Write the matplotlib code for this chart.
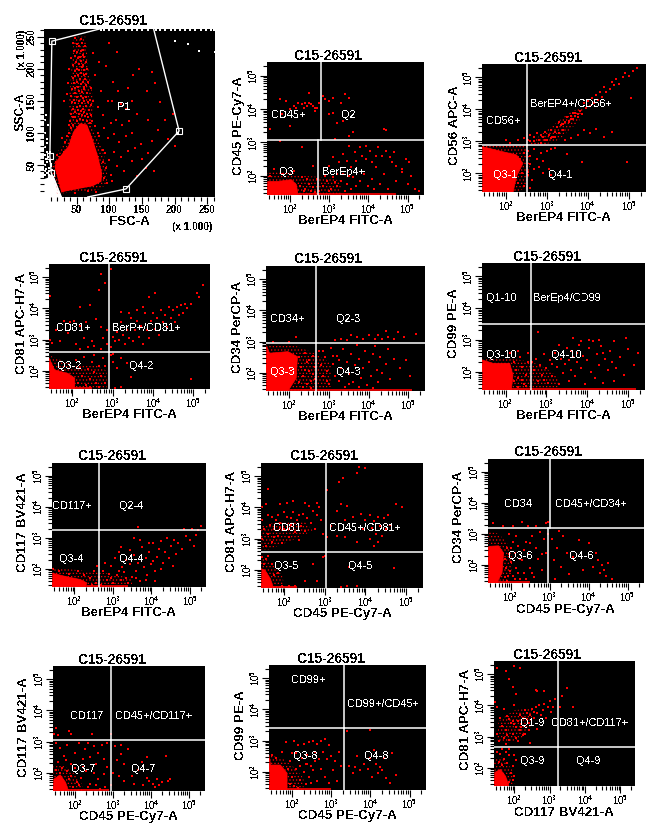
import math
import matplotlib
matplotlib.use("Agg")
import matplotlib.pyplot as plt
from matplotlib.ticker import FixedLocator, FixedFormatter, NullFormatter

plt.rcParams['font.family'] = ['Liberation Sans', 'DejaVu Sans']
plt.rcParams['mathtext.default'] = 'regular'
plt.rcParams['text.antialiased'] = False
plt.rcParams['hatch.linewidth'] = 0.5

W, H = 668, 835
RED = '#ff0000'
SAMPLE = "C15-26591"

# ============================
# FSC / SSC scatter (values in thousands)
# ============================
gate_x = [67, 125.5, 207, 168, None, 85, 12, 9, 11, 26.5]
gate_y = [0, 12.5, 103, 262, None, 262, 243, 64, 38, 0]
handle_x = [12, 207, 125.5, 9, 11]
handle_y = [243, 103, 12.5, 64, 38]
debris_x = [0, 27, 16, 11, 6, 0]
debris_y = [0, 0, 30, 36, 30, 28]
debris_pts = [(2,35),(5,38),(8,40),(3,44),(7,46),(10,48),(2,50),(5,54),(9,56),(3,60),(6,62),(1,66),(4,70),(2,78),
              (8,34),(12,42),(4,90),(2,100),(6,112),(3,128),(1,120),(5,84),(13,30),(11,52),(7,30),(1,40),(9,70),
              (200,243),(220,238),(238,228),(262,226),(205,100)]
top_row_x = [88,92,100,108,115,125,135,142,150,160,172,178,186,194,200,208,216,224,232,240,248,256,261]
core_x = [26.5, 16, 21, 37, 45, 55, 66, 75, 83, 89, 88, 75, 34]
core_y = [7, 48, 59, 79, 102, 115, 113, 89, 63, 37, 24, 17, 9]
halo_lower = [(20,5),(11,48),(22,72),(34,92),(40,112),(72,114),(85,88),(97,48),(97,20),(80,10)]
halo_column = [(40,108),(73,108),(76,150),(68,200),(64,250),(46,250),(42,200),(38,150)]
cells_pts = [(45,112),(50,118),(55,122),(60,120),(66,118),(70,115),(42,108),(48,125),(53,130),(58,128),(63,126),(68,124),
    (40,118),(44,124),(52,136),(57,134),(62,132),(66,130),(72,128),(38,112),(47,132),(50,140),(55,142),(60,138),(64,142),
    (69,136),(74,118),(44,138),(41,130),(48,146),(54,150),(58,146),(62,150),(67,148),(72,144),(46,152),(43,148),(50,156),
    (56,158),(60,154),(65,156),(70,152),(75,150),(42,158),(47,162),(53,166),(58,164),(62,168),(66,162),(52,172),(57,176),
    (61,172),(47,170),(43,168),(65,174),(50,180),(55,184),(59,180),(63,184),(46,178),(68,180),(52,190),(57,194),(61,190),
    (48,188),(65,192),(44,186),(54,198),(58,202),(62,198),(50,200),(47,196),(66,200),(53,208),(57,212),(60,206),(49,210),
    (64,210),(45,206),(55,218),(59,222),(52,216),(62,218),(48,220),(56,228),(51,226),(60,230),(46,228),(54,236),(58,240),
    (50,238),(63,236),(44,240),(56,246),(48,248),(42,216),(39,200),(37,178),(35,160),(30,150),(72,170),(78,190),(84,210),
    (100,240),(112,226),(75,224),(88,165),(95,205),(105,180),(82,140),(90,128),(98,150),(110,120),(118,145),(128,170),
    (136,190),(146,200),(170,178),(166,195),(158,165),(142,130),(130,118),(120,112),(108,98),(98,92),(115,86),(125,95),
    (135,100),(148,82),(140,76),(128,72),(118,62),(108,70),(100,58),(112,48),(122,40),(135,56),(150,60),(160,68),(95,45),
    (102,35),(90,74),(82,100),(78,110),(30,70),(24,62),(32,85),(28,92),(18,55),(20,65),(35,95),(38,100),(92,30),(96,22),
    (104,25),(160,120),(175,105),(186,120),(190,90),(178,148),(198,130),(200,80),(165,88),(85,95),(92,108),(102,115),
    (90,55),(94,68),(168,40),(156,45),(142,32),(80,8),(68,10),(48,6),(104,150),(114,165),(125,138),(135,150)]

# ============================
# Log panels, all values are log10 of the channel
# ============================
berep4_cd45_core = [(1.42,1.42),(1.42,1.83),(1.70,1.83),(2.04,1.88),(2.17,1.73),(2.21,1.42)]
berep4_cd45_halo = [[(1.42,1.42),(1.42,2.1),(1.9,2.15),(2.3,2.0),(2.9,1.95),(3.3,1.85),(3.3,1.42)]]
berep4_cd45_pts = [(2.0,4.0),(2.1,4.1),(2.2,4.2),(2.3,4.15),(2.4,4.2),(2.45,4.1),(2.5,4.2),(2.55,4.15),(2.6,4.1),(2.65,4.05),
    (2.7,4.05),(2.65,3.95),(2.75,4.2),(2.9,4.3),(2.35,4.05),(2.15,4.05),(1.9,4.25),(1.75,4.3),(1.8,3.85),(2.5,4.5),(2.85,4.4),
    (3.0,4.25),(3.1,4.35),(3.4,4.45),(3.3,4.2),(3.5,4.35),(3.1,3.9),(3.0,3.85),(3.2,3.6),(3.35,3.65),(3.5,3.2),(3.6,3.3),
    (4.4,3.4),(4.45,3.38),(3.15,3.1),(2.0,3.5),(1.5,3.4),(1.75,3.05),(2.3,2.85),(1.6,2.2),(1.5,2.0),(1.8,2.05),(2.1,2.15),
    (2.3,1.95),(2.25,1.7),(2.4,1.6),(2.5,1.75),(2.6,1.65),(2.65,1.5),(2.45,1.9),(2.35,1.55),(2.55,1.55),(2.7,1.9),(2.6,2.3),
    (2.85,1.7),(2.95,1.85),(3.05,1.6),(3.1,1.95),(3.2,1.7),(3.3,1.85),(3.35,2.05),(3.45,1.75),(3.55,1.6),(3.6,1.95),(3.7,2.2),
    (3.8,1.85),(3.9,2.05),(4.0,1.7),(4.1,1.9),(4.2,2.25),(4.3,1.75),(4.4,2.05),(4.5,1.6),(4.6,2.4),(4.7,1.85),(4.85,2.1),
    (5.0,1.75),(5.1,2.0),(5.2,1.6),(5.05,2.4),(5.3,1.55),(3.0,2.3),(3.1,2.55),(3.25,2.4),(3.35,2.65),(3.45,2.45),(3.55,2.25),
    (3.65,2.7),(3.7,2.45),(3.8,2.85),(3.85,2.6),(3.95,2.5),(3.95,2.9),(4.05,2.75),(4.1,2.4),(4.2,2.6),(4.25,2.85),(4.35,2.6),
    (4.45,2.75),(4.55,2.55),(4.65,2.7),(4.7,2.3),(4.85,2.2),(4.95,2.5),(3.5,2.9),(3.2,2.05),(3.0,1.55),(3.4,1.55),(3.7,1.7),
    (4.15,1.6),(2.75,1.55),(2.9,2.0),(3.15,1.8),(3.5,2.0)]
berep4_cd56_core = [(1.42,1.42),(1.42,2.84),(1.89,2.69),(2.26,2.58),(2.42,2.32),(2.26,1.90),(2.18,1.42)]
berep4_cd56_halo = [[(1.42,2.87),(2.52,2.87),(2.6,2.3),(2.52,1.6),(2.3,1.42),(1.9,1.42)],
                    [(2.55,2.9),(3.0,3.35),(3.6,3.95),(3.9,4.05),(3.8,3.65),(3.3,3.05),(2.95,2.9)]]
berep4_cd56_pts = [(2.55,3.05),(2.6,3.2),(2.7,3.0),(2.75,3.25),(2.8,3.05),(2.85,2.95),(2.9,3.15),(2.95,3.3),(3.0,3.05),(3.05,3.2),
    (3.1,3.35),(3.15,3.15),(3.2,3.3),(3.25,3.45),(3.3,3.25),(3.35,3.5),(3.4,3.35),(3.45,3.6),(3.5,3.75),(3.55,3.6),(3.6,3.8),
    (3.65,3.7),(3.7,3.9),(3.75,3.75),(3.8,3.95),(3.85,3.85),(3.9,4.2),(3.95,4.05),(4.0,4.25),(4.05,4.1),(4.1,4.35),(4.15,4.2),
    (4.2,4.45),(4.25,4.3),(4.3,4.55),(4.35,4.4),(4.4,4.7),(4.45,4.55),(4.55,4.65),(4.6,4.85),(4.65,4.75),(4.7,4.95),(4.75,4.8),
    (4.85,5.0),(4.9,5.15),(5.0,5.05),(5.1,5.2),(5.2,5.3),(3.55,3.65),(3.7,3.8),(3.75,3.85),(3.6,3.7),(3.65,3.9),(3.4,3.55),
    (3.3,3.6),(3.2,3.15),(3.1,3.1),(2.95,3.05),(2.85,3.2),(2.7,3.15),(2.6,3.0),(3.75,3.2),(3.9,3.35),(4.05,3.25),(4.2,3.4),
    (4.4,3.15),(4.6,3.3),(3.6,3.1),(3.45,3.05),(5.05,4.35),(2.45,3.1),(2.3,3.05),(2.0,3.05),(2.1,2.95),(2.55,2.7),(2.6,2.55),
    (2.7,2.75),(2.75,2.45),(2.85,2.65),(2.6,2.3),(2.7,2.15),(2.8,2.2),(2.9,2.4),(3.0,2.7),(3.1,2.75),(3.2,2.8),(3.5,2.6),
    (2.65,1.8),(2.55,2.05),(2.6,1.55),(2.55,1.95),(2.3,2.15),(2.35,2.45),(2.45,2.65),(2.2,1.8),(2.3,1.7),(2.4,2.0),(2.45,1.6),
    (3.05,2.15),(3.1,1.95),(2.9,2.0),(3.85,2.35),(4.95,2.35)]
berep4_cd81_core = [(1.42,1.42),(1.42,2.41),(1.56,2.03),(1.89,1.92),(2.06,1.77),(2.06,1.42)]
berep4_cd81_halo = [[(1.42,1.42),(1.42,2.5),(2.0,2.2),(2.6,2.2),(2.85,2.0),(2.85,1.42)]]
berep4_cd81_pts = [(1.8,3.6),(1.95,3.55),(2.05,3.6),(2.2,3.45),(2.35,3.55),(2.6,3.65),(2.7,3.4),(2.75,3.05),(2.85,3.3),(2.5,2.95),
    (2.3,3.05),(2.1,2.85),(1.9,3.2),(1.7,2.95),(1.5,2.9),(1.45,3.0),(1.6,3.3),(2.2,4.05),(2.45,4.1),(2.8,4.8),(2.7,5.1),
    (2.95,5.25),(2.65,4.6),(1.45,4.4),(2.2,2.7),(2.4,2.75),(2.55,2.8),(2.7,2.7),(2.85,2.85),(2.95,2.75),(3.0,3.1),(3.05,2.95),
    (3.1,3.25),(3.15,3.0),(3.2,3.55),(3.25,3.15),(3.3,2.85),(3.35,3.3),(3.4,3.05),(3.45,3.7),(3.5,2.95),(3.55,3.3),(3.6,3.6),
    (3.65,3.1),(3.7,3.45),(3.75,2.85),(3.8,3.85),(3.85,3.3),(3.9,3.05),(3.95,3.6),(4.0,3.85),(4.05,3.35),(4.1,3.7),(4.15,3.15),
    (4.2,3.95),(4.25,3.55),(4.3,3.8),(4.35,3.4),(4.4,4.05),(4.45,3.7),(4.5,3.95),(4.55,3.55),(4.6,4.05),(4.65,3.8),(4.7,4.1),
    (4.75,3.85),(4.8,4.15),(4.85,4.0),(4.95,4.15),(4.05,4.5),(3.9,4.35),(3.6,3.95),(3.4,3.85),(3.2,3.9),(3.75,4.05),(5.1,4.5),
    (5.15,4.35),(5.25,4.75),(2.95,2.5),(3.0,2.3),(3.1,2.1),(3.2,2.4),(3.35,2.25),(3.45,1.8),(3.2,1.5),(3.05,1.45),(4.95,1.75),
    (2.1,2.35),(2.2,2.1),(2.25,1.85),(2.3,2.45),(2.4,2.05),(2.45,1.75),(2.5,2.3),(2.55,1.95),(2.6,1.6),(2.65,2.15),(2.7,1.85),
    (2.75,2.4),(2.8,1.6),(2.35,1.55),(2.15,1.6),(2.55,2.5),(2.8,2.15),(2.45,1.5),(2.65,1.5),(3.0,2.55)]
berep4_cd34_core = [(1.42,1.42),(1.42,2.9),(1.51,2.63),(1.97,2.68),(2.21,2.52),(2.18,1.83),(1.97,1.42)]
berep4_cd34_halo = [[(1.42,2.92),(2.2,2.85),(2.7,2.6),(3.05,2.3),(3.05,1.55),(2.6,1.45),(2.0,1.42)]]
berep4_cd34_pts = [(2.25,2.5),(2.3,2.2),(2.35,1.9),(2.4,2.65),(2.45,2.35),(2.5,2.05),(2.55,1.75),(2.6,2.55),(2.65,2.2),(2.25,1.7),
    (2.35,1.55),(2.45,1.65),(2.55,1.5),(2.65,1.8),(2.4,2.1),(2.5,2.4),(2.6,1.95),(2.75,2.7),(2.8,2.25),(2.85,1.9),(2.9,2.5),
    (2.95,2.05),(3.0,1.65),(3.05,2.8),(3.1,2.3),(3.15,1.9),(3.2,2.55),(3.25,1.75),(3.3,2.15),(3.35,2.75),(3.4,1.55),(3.45,2.35),
    (3.5,1.95),(3.55,2.6),(3.6,1.7),(3.65,2.25),(3.7,2.9),(3.75,2.45),(3.8,1.85),(3.85,2.15),(3.9,2.7),(3.95,1.6),(4.0,2.35),
    (4.05,1.9),(4.1,2.6),(4.15,2.85),(4.2,2.1),(4.25,1.7),(4.3,2.5),(4.35,2.0),(4.45,2.3),(4.5,2.75),(4.55,1.8),(4.65,2.45),
    (4.8,2.15),(4.95,2.4),(5.05,1.9),(3.15,3.05),(3.3,3.1),(3.45,3.05),(3.55,3.2),(3.7,3.15),(3.85,3.1),(4.0,3.2),(4.15,3.1),
    (4.25,3.2),(4.35,3.1),(4.45,3.35),(4.5,3.15),(4.65,3.1),(4.75,3.3),(4.9,3.15),(5.2,3.25),(2.17,3.15),(2.0,2.98),(1.6,3.0),
    (2.95,1.75),(3.25,2.4),(3.5,1.65),(3.75,1.55),(4.1,1.5),(2.85,2.7),(3.1,2.55)]
berep4_cd99_core = [(1.42,1.42),(1.42,2.37),(1.69,2.26),(2.10,2.26),(2.18,1.89),(2.14,1.42)]
berep4_cd99_halo = [[(1.42,2.45),(2.2,2.4),(2.65,2.3),(3.0,2.1),(3.3,1.8),(3.3,1.5),(2.1,1.42)]]
berep4_cd99_pts = [(2.2,2.3),(2.25,2.05),(2.3,1.8),(2.35,2.45),(2.4,2.15),(2.45,1.6),(2.5,1.9),(2.55,2.3),(2.2,1.7),(2.3,1.5),
    (2.4,1.75),(2.5,1.55),(2.3,2.65),(2.55,2.6),(2.1,2.6),(2.7,2.05),(2.75,2.4),(2.8,1.7),(2.85,2.2),(2.9,1.9),(2.95,2.55),
    (3.0,2.1),(3.05,1.65),(3.1,2.35),(3.15,1.85),(3.2,2.6),(3.25,2.15),(3.3,1.6),(3.35,2.4),(3.4,1.95),(3.45,2.25),(3.5,2.75),
    (3.55,1.7),(3.6,2.05),(3.65,2.45),(3.7,1.85),(3.75,2.3),(3.8,2.85),(3.85,2.1),(3.9,2.5),(3.95,1.6),(4.0,2.35),(4.05,2.75),
    (4.1,2.0),(4.15,2.95),(4.2,1.8),(4.25,2.55),(4.3,2.2),(4.35,2.8),(4.4,1.65),(4.45,2.4),(4.5,2.05),(4.55,2.65),(4.6,2.3),
    (4.65,1.7),(4.7,2.1),(4.8,2.45),(4.9,1.9),(5.0,2.7),(5.15,2.2),(5.25,2.6),(2.8,3.25),(3.65,3.05),(4.3,3.0),(4.65,2.95),
    (4.95,3.05),(3.3,2.85),(3.6,2.65),(4.05,3.0),(3.85,2.95),(4.4,2.6),(2.65,2.3),(2.95,1.75),(3.15,2.25),(3.55,2.35),(3.75,2.6)]
berep4_cd117_core = [(1.42,1.42),(1.42,1.87),(1.77,1.76),(2.16,1.66),(2.33,1.55),(2.28,1.42)]
berep4_cd117_halo = [[(1.42,1.42),(1.42,2.05),(2.2,1.95),(2.9,1.85),(3.5,1.7),(3.5,1.45)]]
berep4_cd117_pts = [(1.45,2.0),(1.6,1.95),(1.85,1.85),(2.1,1.95),(2.25,1.8),(2.4,1.7),(2.5,1.95),(2.55,1.55),(2.6,2.1),(2.45,1.5),
    (2.65,1.75),(2.7,1.5),(2.75,1.95),(2.8,2.2),(2.85,1.65),(2.9,1.85),(2.95,2.1),(3.0,1.55),(3.05,2.35),(3.1,1.8),(3.15,2.55),
    (3.2,1.65),(3.25,2.05),(3.3,1.9),(3.35,2.3),(3.4,1.55),(3.45,2.15),(3.5,1.75),(3.55,2.45),(3.6,1.95),(3.65,2.2),(3.7,1.6),
    (3.75,2.7),(3.8,2.05),(3.85,2.35),(3.9,1.8),(3.95,2.55),(4.0,2.15),(4.05,2.85),(4.1,1.95),(4.15,2.4),(4.2,2.65),(4.25,2.9),
    (4.3,2.2),(4.35,2.55),(4.4,3.0),(4.45,2.35),(4.5,2.75),(4.55,2.1),(4.6,2.95),(4.65,2.5),(4.7,2.85),(4.8,2.65),(4.9,3.05),
    (5.0,2.95),(5.1,2.75),(5.2,3.25),(5.05,3.3),(5.15,3.1),(5.3,3.4),(4.85,3.3),(3.65,3.35),(3.55,3.0),(3.7,2.95),(3.95,2.85),
    (3.2,2.7),(3.45,2.6),(2.95,1.7),(3.15,1.95),(3.35,1.7),(3.6,1.7),(3.85,1.65),(4.1,1.6),(4.05,2.25),(4.25,2.0)]
cd45_cd81_core = [(1.42,1.42),(1.42,2.04),(1.52,1.99),(1.65,1.72),(1.73,1.42)]
cd45_cd81_halo = [[(1.42,1.42),(1.42,2.5),(1.7,2.2),(1.95,1.8),(2.0,1.42)],
                  [(1.42,2.65),(1.42,3.4),(1.9,3.55),(2.5,3.55),(2.7,3.25),(2.2,2.95),(1.6,2.65)]]
cd45_cd81_pts = [(1.45,2.4),(1.5,2.2),(1.55,2.35),(1.7,2.2),(1.85,1.9),(1.75,1.85),(1.6,2.45),(1.95,1.5),(2.1,1.5),(2.25,1.5),
    (2.7,2.2),(2.5,1.65),(2.95,2.4),(3.0,2.45),(2.8,1.65),(1.45,3.0),(1.5,3.3),(1.55,2.75),(1.6,3.15),(1.65,3.45),(1.7,2.9),
    (1.75,3.3),(1.8,3.6),(1.85,3.1),(1.9,3.5),(1.95,2.85),(2.0,3.3),(2.05,3.7),(2.1,3.05),(2.15,3.45),(2.2,3.85),(2.25,3.2),
    (2.3,3.6),(2.35,2.95),(2.4,3.4),(2.45,3.8),(2.5,3.25),(2.55,3.65),(2.6,4.05),(2.65,3.5),(2.7,3.9),(2.75,3.3),(2.8,3.75),
    (2.85,4.0),(2.9,3.6),(2.95,3.15),(1.55,4.1),(1.9,4.1),(2.05,4.15),(2.2,4.2),(2.5,4.15),(2.8,4.15),(1.6,4.6),(1.6,3.75),
    (1.7,3.7),(1.85,3.75),(2.0,3.85),(2.15,3.65),(2.35,3.75),(1.75,3.05),(1.9,3.35),(2.1,3.3),(3.05,4.55),(3.35,4.8),(3.45,4.95),
    (3.85,5.3),(4.0,5.25),(3.8,5.1),(3.3,3.9),(3.4,4.1),(3.5,3.6),(3.55,4.05),(3.7,3.7),(3.9,3.8),(4.0,3.6),(4.1,3.75),(4.15,3.35),
    (4.2,3.55),(4.25,3.15),(4.3,3.7),(4.35,3.4),(4.4,3.1),(4.45,3.65),(4.5,3.3),(4.55,3.75),(4.6,3.45),(3.3,3.1),(3.5,3.05),
    (3.8,2.9),(3.95,3.3),(4.1,3.0),(4.2,2.75),(4.3,2.9),(4.75,4.1),(4.9,4.0),(3.05,3.05),(3.15,3.4),(3.6,2.1),(4.7,2.05),(3.4,1.45),
    (3.55,1.5),(3.8,1.5),(1.45,4.0),(1.45,3.6)]
cd45_cd34_core = [(1.42,1.42),(1.42,2.6),(1.69,2.62),(1.82,2.39),(1.78,1.75),(1.65,1.42)]
cd45_cd34_halo = [[(1.42,1.42),(1.42,3.1),(1.7,3.0),(1.95,2.65),(2.05,2.2),(2.0,1.6),(1.85,1.42)]]
cd45_cd34_pts = [(1.85,2.2),(1.88,1.9),(1.9,2.55),(1.92,1.65),(1.95,2.35),(1.98,1.8),(2.0,2.1),(1.85,1.6),(1.9,1.5),(2.05,1.65),
    (2.1,2.4),(2.15,1.9),(2.2,2.6),(2.25,1.55),(2.3,2.15),(2.35,1.75),(2.4,2.75),(2.45,2.35),(2.5,1.9),(2.55,2.95),(2.6,1.6),
    (2.65,2.55),(2.7,2.2),(2.75,3.05),(2.8,1.85),(2.85,2.85),(2.9,2.4),(2.95,3.0),(2.3,3.4),(2.65,3.25),(2.9,3.35),(2.95,3.4),
    (1.55,3.35),(1.8,3.25),(2.05,3.25),(2.45,3.25),(3.05,2.85),(3.1,2.15),(3.2,2.55),(3.3,1.95),(3.35,2.95),(3.45,2.4),(3.5,1.7),
    (3.6,2.25),(3.75,2.8),(3.85,1.85),(4.0,2.7),(4.1,1.95),(4.2,2.4),(4.25,2.15),(4.3,1.75),(4.35,2.0),(4.4,1.85),(4.45,1.65),
    (4.5,2.05),(4.6,1.55),(3.25,3.1),(3.15,1.55),(2.25,2.2),(2.35,2.5),(2.5,2.7),(2.05,2.75),(2.15,2.95),(2.0,2.55),(1.95,3.0),
    (2.1,1.55),(2.2,1.75),(2.4,1.55),(2.55,1.75),(2.8,2.35)]
cd45_cd117_core = [(1.42,1.42),(1.42,1.78),(1.61,1.94),(1.75,1.70),(1.83,1.42)]
cd45_cd117_halo = [[(1.42,1.42),(1.42,2.2),(1.7,2.25),(2.0,1.95),(2.2,1.6),(2.2,1.42)]]
cd45_cd117_pts = [(1.5,3.45),(1.55,3.2),(1.85,3.35),(1.9,3.25),(1.45,3.25),(2.45,3.25),(2.95,3.25),(1.5,2.95),(1.6,2.8),(1.7,2.55),
    (1.8,2.9),(1.9,2.3),(2.0,2.65),(2.1,2.95),(2.2,2.45),(2.25,2.75),(2.35,2.95),(2.4,2.5),(2.5,2.85),(2.55,2.3),(2.6,2.65),
    (2.7,2.9),(2.75,2.45),(2.85,2.95),(1.55,2.35),(1.65,2.15),(1.75,2.4),(1.8,2.05),(1.9,1.9),(2.0,2.15),(2.05,1.7),(2.15,1.85),
    (2.2,2.2),(2.3,2.05),(2.4,1.65),(2.5,2.0),(2.6,1.8),(2.65,1.5),(2.75,1.95),(2.85,2.2),(1.5,2.1),(1.6,2.0),(1.85,1.8),(1.95,1.55),
    (2.1,1.6),(2.35,1.55),(2.55,1.6),(2.8,1.55),(3.05,2.85),(3.2,2.9),(3.1,2.4),(3.2,2.6),(3.3,2.3),(3.4,2.75),(3.15,1.9),(3.3,1.75),
    (3.5,1.9),(3.55,1.65),(3.65,2.1),(3.75,2.35),(3.8,1.6),(3.9,2.5),(3.95,1.75),(4.05,1.65),(4.1,1.55),(4.15,1.8),(4.2,1.6),
    (4.3,1.7),(4.4,2.55),(4.45,1.75),(4.5,1.8),(3.9,1.85),(3.0,2.0),(2.95,1.6)]
cd45_cd99_core = [(1.42,1.42),(1.42,2.54),(1.46,2.22),(1.71,2.22),(1.88,1.96),(1.88,1.42)]
cd45_cd99_halo = [[(1.42,1.42),(1.42,2.55),(1.8,2.4),(2.1,2.1),(2.3,1.8),(2.3,1.42)]]
cd45_cd99_pts = [(1.5,2.55),(1.6,2.45),(1.75,2.65),(1.85,2.95),(1.95,2.35),(2.05,3.0),(2.1,2.6),(2.2,2.2),(2.25,2.45),(2.3,2.9),
    (2.4,2.55),(2.45,2.95),(2.5,2.2),(2.55,3.0),(2.6,2.65),(2.65,2.9),(2.7,2.4),(2.75,3.0),(2.8,2.65),(2.85,3.05),(2.9,2.4),
    (2.95,2.85),(3.0,2.5),(3.1,2.35),(3.2,2.65),(1.9,2.1),(2.0,1.85),(2.1,2.1),(2.2,1.75),(2.3,2.0),(2.35,1.6),(2.45,1.85),
    (2.55,2.05),(2.65,1.7),(2.75,2.1),(2.85,1.85),(2.95,1.65),(3.05,2.05),(3.15,1.7),(3.25,2.2),(1.95,1.6),(2.05,1.55),(2.15,1.5),
    (2.4,2.25),(2.5,1.65),(3.4,3.3),(4.0,3.35),(3.45,2.2),(3.55,1.95),(3.6,2.15),(3.65,2.5),(3.75,2.05),(3.85,2.25),(3.95,2.1),
    (4.0,2.45),(4.05,1.85),(4.1,2.7),(4.15,2.25),(4.2,1.95),(4.25,2.15),(4.3,2.05),(4.35,2.45),(4.4,1.8),(4.5,1.65),(4.55,2.6),
    (4.65,1.9),(2.0,2.6),(2.15,2.85),(2.35,2.25),(2.6,2.35)]
cd117_cd81_core = [(1.42,1.42),(1.42,1.84),(1.60,1.95),(1.75,1.73),(1.84,1.42)]
cd117_cd81_halo = [[(1.42,1.42),(1.42,2.3),(1.7,2.35),(1.95,1.9),(2.0,1.42)],
                   [(1.5,2.85),(1.55,3.5),(2.0,3.85),(2.5,3.9),(2.5,3.4),(2.2,2.95),(1.8,2.8)]]
cd117_cd81_pts = [(1.5,5.2),(1.75,5.1),(2.0,5.25),(2.15,5.2),(1.85,4.85),(1.95,4.6),(2.05,4.35),(2.6,4.5),(2.65,4.45),(2.85,4.45),
    (3.5,4.55),(3.35,4.3),(3.15,4.2),(3.3,3.95),(3.65,3.95),(1.45,4.1),(1.5,3.95),(1.6,3.6),(1.7,3.9),(1.75,3.2),(1.8,3.65),
    (1.85,2.9),(1.9,3.45),(1.95,3.1),(2.0,4.0),(2.05,3.3),(2.1,2.85),(2.15,3.7),(2.2,3.4),(2.25,3.05),(2.3,3.85),(2.35,3.55),
    (2.4,3.2),(2.45,2.8),(2.5,3.9),(2.55,3.6),(2.6,3.95),(2.65,3.25),(2.7,4.0),(2.75,3.7),(2.8,3.85),(2.85,4.05),(2.9,3.6),(2.95,3.95),
    (3.0,4.15),(3.05,3.8),(3.1,3.95),(1.5,3.1),(1.55,2.85),(1.65,3.35),(1.7,2.95),(1.8,3.05),(1.95,3.5),(2.05,2.95),(2.1,3.5),
    (2.2,3.3),(2.25,3.6),(2.3,3.1),(2.4,3.45),(2.45,3.7),(2.15,3.2),(2.0,3.4),(1.85,3.55),(1.75,2.75),(2.35,3.75),(2.55,3.8),
    (2.65,3.75),(1.5,2.5),(1.55,2.2),(1.6,2.45),(1.65,2.6),(1.7,2.3),(1.75,2.5),(1.8,2.15),(1.85,2.4),(1.9,1.85),(1.95,2.05),
    (1.95,1.6),(2.0,1.75),(1.85,1.55),(1.85,2.6),(1.65,2.1),(2.05,2.25),(2.0,2.4)]

# core, halos, points, x label, y label, v-line upper, v-line lower, h-line,
# quadrant labels, bottom strip end, axes rect px, xlabel px, ylabel px, title px
log_panels = [
    (berep4_cd45_core, berep4_cd45_halo, berep4_cd45_pts, "BerEP4 FITC-A", "CD45 PE-Cy7-A", 2.79, 2.73, 3.08,
     [("CD45+",1.98,3.83),("Q2",3.5,3.83),("Q3",1.93,2.11),("BerEp4+",3.38,2.11)], 4.7,
     (267,62,424,195), (345,221), (239,126), (328,56)),
    (berep4_cd56_core, berep4_cd56_halo, berep4_cd56_pts, "BerEP4 FITC-A", "CD56 APC-A", 2.52, 2.52, 2.89,
     [("CD56+",1.96,3.65),("BerEP4+/CD56+",3.59,4.18),("Q3-1",2.0,1.96),("Q4-1",3.34,1.96)], None,
     (482,64,646,192), (563,218), (455,125), (548,58)),
    (berep4_cd81_core, berep4_cd81_halo, berep4_cd81_pts, "BerEP4 FITC-A", "CD81 APC-H7-A", 2.90, 2.90, 2.60,
     [("CD81+",2.04,3.37),("BerP+/CD81+",3.84,3.37),("Q3-2",1.92,2.16),("Q4-2",3.73,2.16)], 2.5,
     (49,264,210,389), (129,415), (22,323), (113,258)),
    (berep4_cd34_core, berep4_cd34_halo, berep4_cd34_pts, "BerEP4 FITC-A", "CD34 PerCP-A", 2.68, 2.68, 2.95,
     [("CD34+",1.97,3.72),("Q2-3",3.51,3.72),("Q3-3",1.85,2.03),("Q4-3",3.51,2.03)], 5.1,
     (266,266,425,391), (345,417), (238,327), (328,259)),
    (berep4_cd99_core, berep4_cd99_halo, berep4_cd99_pts, "BerEP4 FITC-A", "CD99 PE-A", 2.62, 2.62, 3.49,
     [("Q1-10",1.91,4.32),("BerEp4/CD99",3.51,4.32),("Q3-10",1.91,2.53),("Q4-10",3.49,2.53)], 5.2,
     (482,263,645,390), (563,416), (454,323), (547,257)),
    (berep4_cd117_core, berep4_cd117_halo, berep4_cd117_pts, "BerEP4 FITC-A", "CD117 BV421-A", 2.63, 2.63, 3.25,
     [("CD117+",1.96,4.02),("Q2-4",3.50,4.02),("Q3-4",1.94,2.33),("Q4-4",3.50,2.33)], 3.4,
     (52,463,206,587), (128,613), (23,522), (112,456)),
    (cd45_cd81_core, cd45_cd81_halo, cd45_cd81_pts, "CD45 PE-Cy7-A", "CD81 APC-H7-A", 3.03, 3.03, 2.56,
     [("CD81",2.07,3.33),("CD45+/CD81+",4.01,3.33),("Q3-5",2.06,2.11),("Q4-5",3.88,2.11)], 2.3,
     (261,463,423,588), (342,614), (232,522), (324,456)),
    (cd45_cd34_core, cd45_cd34_halo, cd45_cd34_pts, "CD45 PE-Cy7-A", "CD34 PerCP-A", 3.02, 2.97, 3.19,
     [("CD34",2.20,3.97),("CD45+/CD34+",4.08,3.97),("Q3-6",2.26,2.28),("Q4-6",3.83,2.28)], 2.5,
     (488,459,644,583), (565,610), (459,517), (548,452)),
    (cd45_cd117_core, cd45_cd117_halo, cd45_cd117_pts, "CD45 PE-Cy7-A", "CD117 BV421-A", 2.94, 2.94, 3.05,
     [("CD117",2.33,3.82),("CD45+/CD117+",4.07,3.82),("Q3-7",2.23,2.13),("Q4-7",3.80,2.13)], 2.9,
     (53,666,205,791), (128,817), (24,727), (112,660)),
    (cd45_cd99_core, cd45_cd99_halo, cd45_cd99_pts, "CD45 PE-Cy7-A", "CD99 PE-A", 3.32, 3.32, 3.40,
     [("CD99+",2.43,4.94),("CD99+/CD45+",4.34,4.18),("Q3-8",2.36,2.51),("Q4-8",4.17,2.51)], 3.0,
     (269,665,426,790), (347,816), (241,725), (331,659)),
    (cd117_cd81_core, cd117_cd81_halo, cd117_cd81_pts, "CD117 BV421-A", "CD81 APC-H7-A", 3.24, 3.24, 2.67,
     [("Q1-9",2.53,3.44),("CD81+/CD117+",4.16,3.44),("Q3-9",2.53,2.23),("Q4-9",4.10,2.23)], None,
     (494,661,635,786), (564,813), (466,720), (547,655)),
]

LOG_MIN, LOG_MAX = 1.42, 5.42
major_decades = [2, 3, 4, 5]
minor_ticks = [m * 10**d for d in range(1, 6) for m in range(2, 10)
               if LOG_MIN <= math.log10(m * 10**d) <= LOG_MAX]


def add_axes_px(fig, rect):
    x0, y0, x1, y1 = rect
    ax = fig.add_axes([x0 / W, 1 - y1 / H, (x1 - x0) / W, (y1 - y0) / H], facecolor='black')
    for s in ax.spines.values():
        s.set_visible(False)
    return ax


def text_px(fig, x, y, s, **kw):
    fig.text(x / W, 1 - y / H, s, ha='center', va='center', **kw)


def draw_labels(fig, title_px, xlabel_px, ylabel_px, xlabel, ylabel):
    text_px(fig, title_px[0], title_px[1], SAMPLE, fontsize=9.9, fontweight='bold')
    text_px(fig, xlabel_px[0], xlabel_px[1], xlabel, fontsize=9.6, fontweight='bold')
    text_px(fig, ylabel_px[0], ylabel_px[1], ylabel, fontsize=9.6, fontweight='bold', rotation=90)


def stipple(ax, xs, ys):
    ax.fill(xs, ys, facecolor='none', edgecolor=RED, hatch='.....', lw=0)


def dots(ax, xs, ys, color=RED):
    ax.scatter(xs, ys, s=1.3, marker='s', c=color, linewidths=0, antialiaseds=False)


def draw_log_panel(fig, panel):
    core, halos, pts, xlabel, ylabel, v_up, v_low, h_line, quads, strip_end, rect, xl_px, yl_px, t_px = panel
    ax = add_axes_px(fig, rect)
    ax.set_xscale('log')
    ax.set_yscale('log')
    ax.set_xlim(10**LOG_MIN, 10**LOG_MAX)
    ax.set_ylim(10**LOG_MIN, 10**LOG_MAX)
    for halo in halos:
        stipple(ax, [10**p[0] for p in halo], [10**p[1] for p in halo])
    ax.fill([10**p[0] for p in core], [10**p[1] for p in core], color=RED, lw=0.5)
    dots(ax, [10**p[0] for p in pts], [10**p[1] for p in pts])
    if strip_end:
        ax.plot([10**LOG_MIN, 10**strip_end], [10**1.44, 10**1.44], color=RED, lw=1.2, solid_capstyle='butt')
    ax.plot([10**v_up, 10**v_up], [10**h_line, 10**LOG_MAX], color='white', lw=1.1)
    ax.plot([10**v_low, 10**v_low], [10**LOG_MIN, 10**h_line], color='white', lw=1.1)
    ax.axhline(10**h_line, color='white', lw=1.1)
    for name, lx, ly in quads:
        ax.text(10**lx, 10**ly, name, color='white', fontsize=7.9, ha='center', va='center')

    labels = [f"$10^{d}$" for d in major_decades]
    positions = [10**d for d in major_decades]
    for axis in (ax.xaxis, ax.yaxis):
        axis.set_major_locator(FixedLocator(positions))
        axis.set_major_formatter(FixedFormatter(labels))
        axis.set_minor_locator(FixedLocator(minor_ticks))
        axis.set_minor_formatter(NullFormatter())
    ax.tick_params(which='major', length=5, width=0.8, labelsize=7.0, pad=0)
    ax.tick_params(which='minor', length=3.2, width=0.8)
    for lab in ax.get_yticklabels():
        lab.set_rotation(90)
        lab.set_va('center')
    draw_labels(fig, t_px, xl_px, yl_px, xlabel, ylabel)


def draw_scatter_panel(fig):
    ax = add_axes_px(fig, (44, 29, 215, 197))
    ax.set_xlim(0, 262)
    ax.set_ylim(0, 262)
    ax.fill(debris_x, debris_y, color='white', lw=0)
    dots(ax, [p[0] for p in debris_pts], [p[1] for p in debris_pts], 'white')
    dots(ax, top_row_x, [261] * len(top_row_x), 'white')
    stipple(ax, [p[0] for p in halo_column], [p[1] for p in halo_column])
    stipple(ax, [p[0] for p in halo_lower], [p[1] for p in halo_lower])
    ax.fill(core_x, core_y, color=RED, lw=0)
    dots(ax, [p[0] for p in cells_pts], [p[1] for p in cells_pts])
    ax.plot(gate_x, gate_y, color='white', lw=1.0)
    ax.plot(handle_x, handle_y, ls='none', marker='s', ms=4.2, mfc='none', mec='white', mew=0.8)
    ax.text(122, 141, "P1", color='white', fontsize=7.9, ha='center', va='center')

    ticks = [50, 100, 150, 200, 250]
    for axis in (ax.xaxis, ax.yaxis):
        axis.set_major_locator(FixedLocator(ticks))
        axis.set_minor_locator(FixedLocator([t for t in range(10, 262, 10) if t not in ticks]))
    ax.set_xticklabels([str(t) for t in ticks], fontsize=7.4, fontweight='bold')
    ax.set_yticklabels([str(t) for t in ticks], fontsize=7.4, fontweight='bold', rotation=90, va='center')
    ax.tick_params(which='major', length=5, width=0.8, pad=0.5)
    ax.tick_params(which='minor', length=3.2, width=0.8)
    text_px(fig, 113, 21, SAMPLE, fontsize=9.9, fontweight='bold')
    text_px(fig, 130, 222, "FSC-A", fontsize=9.6, fontweight='bold')
    text_px(fig, 21, 112, "SSC-A", fontsize=8.8, fontweight='bold', rotation=90)
    text_px(fig, 192, 227, "(x 1,000)", fontsize=7.2, fontweight='bold')
    text_px(fig, 22, 50, "(x 1,000)", fontsize=7.2, fontweight='bold', rotation=90)


fig = plt.figure(figsize=(W / 100, H / 100), dpi=100, facecolor='white')
draw_scatter_panel(fig)
for panel in log_panels:
    draw_log_panel(fig, panel)
fig.savefig("out.png", dpi=100)
